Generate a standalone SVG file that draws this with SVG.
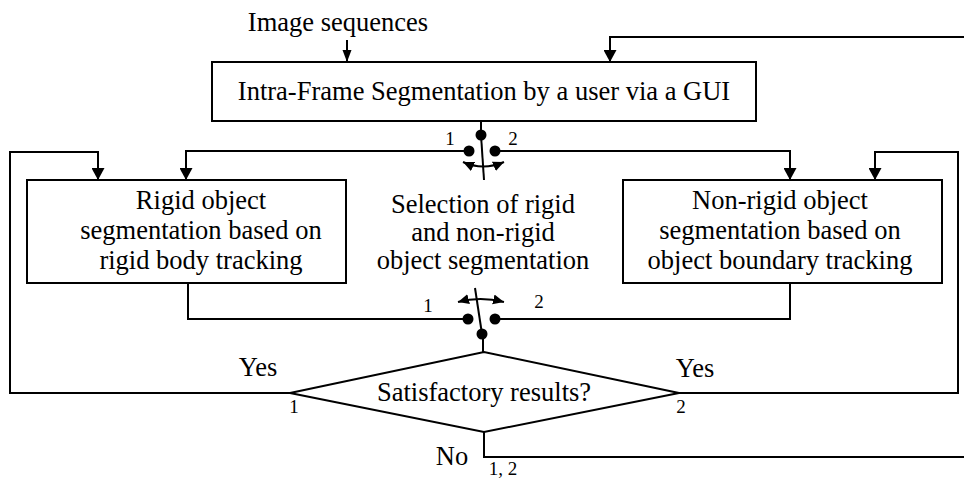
<svg xmlns="http://www.w3.org/2000/svg" width="964" height="479" viewBox="0 0 964 479">
<style>
.box{fill:#fff;stroke:#000;stroke-width:2}
.ln{fill:none;stroke:#000;stroke-width:2}
.t{font-family:"Liberation Serif","Times New Roman",serif;font-size:26.5px;fill:#000;text-anchor:middle}
.s{font-family:"Liberation Serif","Times New Roman",serif;font-size:19px;fill:#000;text-anchor:middle}
.dot{fill:#000}
</style>
<defs>
<marker id="ah" markerUnits="userSpaceOnUse" markerWidth="13" markerHeight="13" refX="12" refY="6.5" orient="auto" viewBox="0 0 13 13">
<path d="M0,0 L12,6.5 L0,13 z" fill="#000"/>
</marker>
<marker id="ahs" markerUnits="userSpaceOnUse" markerWidth="12" markerHeight="10" refX="12" refY="4.5" orient="auto" viewBox="0 0 12 9">
<path d="M0,0 L12,4.5 L0,9 z" fill="#000"/>
</marker>
<marker id="sw" markerUnits="userSpaceOnUse" markerWidth="12" markerHeight="11" refX="11" refY="5" orient="auto-start-reverse" viewBox="0 0 12 10">
<path d="M0,0 L11,5 L0,10 z" fill="#000"/>
</marker>
</defs>

<g id="connectors">
<line class="ln" x1="347" y1="40" x2="347" y2="62" marker-end="url(#ahs)"/>
<polyline class="ln" points="964,37 610,37 610,62" marker-end="url(#ah)"/>
<line class="ln" x1="481" y1="121" x2="481" y2="135"/>
<polyline class="ln" points="469,151 186,151 186,180" marker-end="url(#ah)"/>
<polyline class="ln" points="495,151 790,151 790,180" marker-end="url(#ah)"/>
<polyline class="ln" points="290,393 10,393 10,152 98,152 98,180" marker-end="url(#ah)"/>
<polyline class="ln" points="679,393 958,393 958,152 875,152 875,180" marker-end="url(#ah)"/>
<polyline class="ln" points="188,283 188,319 468,319"/>
<polyline class="ln" points="790,283 790,319 495,319"/>
<line class="ln" x1="483" y1="334" x2="483" y2="352"/>
<polyline class="ln" points="484,432 484,457 964,457"/>
<!-- upper switch -->
<circle class="dot" cx="481" cy="135" r="5.5"/>
<circle class="dot" cx="469" cy="151" r="5.5"/>
<circle class="dot" cx="495" cy="151" r="5.5"/>
<line class="ln" x1="481" y1="135" x2="484" y2="180"/>
<path class="ln" d="M463,162 Q483,171 504,162" marker-start="url(#sw)" marker-end="url(#sw)"/>
<!-- lower switch -->
<circle class="dot" cx="468" cy="319" r="5.5"/>
<circle class="dot" cx="495" cy="319" r="5.5"/>
<circle class="dot" cx="482" cy="334" r="5.5"/>
<line class="ln" x1="482" y1="334" x2="475" y2="288"/>
<path class="ln" d="M458,302 Q480,296 504,302" marker-start="url(#sw)" marker-end="url(#sw)"/>
</g>

<text class="t" x="338" y="31">Image sequences</text>

<g id="intra">
<rect class="box" x="212" y="62" width="544" height="59"/>
<text class="t" x="484" y="100">Intra-Frame Segmentation by a user via a GUI</text>
</g>

<g id="rigid">
<rect class="box" x="27" y="180" width="319" height="103"/>
<text class="t" x="201" y="209">Rigid object</text>
<text class="t" x="201" y="239">segmentation based on</text>
<text class="t" x="201" y="269">rigid body tracking</text>
</g>

<g id="selection">
<text class="t" x="483" y="213">Selection of rigid</text>
<text class="t" x="483" y="241">and non-rigid</text>
<text class="t" x="483" y="269">object segmentation</text>
<text class="s" x="450" y="145">1</text>
<text class="s" x="513" y="145">2</text>
<text class="s" x="428" y="312">1</text>
<text class="s" x="539" y="308">2</text>
</g>

<g id="nonrigid">
<rect class="box" x="623" y="180" width="319" height="103"/>
<text class="t" x="780" y="209">Non-rigid object</text>
<text class="t" x="780" y="239">segmentation based on</text>
<text class="t" x="780" y="269">object boundary tracking</text>
</g>

<g id="decision">
<polygon class="box" points="290,393 484,352 679,393 484,432"/>
<text class="t" x="484" y="401">Satisfactory results?</text>
<text class="t" x="258" y="376">Yes</text>
<text class="t" x="695" y="377">Yes</text>
<text class="s" x="294" y="413">1</text>
<text class="s" x="681" y="413">2</text>
<text class="t" x="452" y="465">No</text>
<text class="s" x="503" y="475">1, 2</text>
</g>
</svg>
